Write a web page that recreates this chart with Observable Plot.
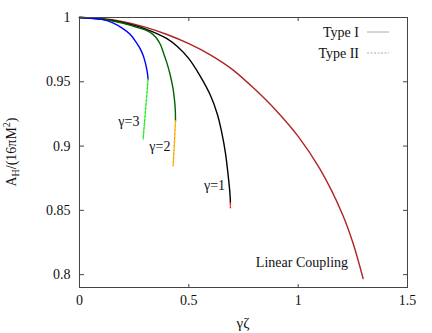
<!DOCTYPE html>
<html><head><meta charset="utf-8">
<script src="https://cdn.jsdelivr.net/npm/d3@7"></script>
<script src="https://cdn.jsdelivr.net/npm/@observablehq/plot@0.6"></script>
<style>
body{margin:0;background:#fff}
#chart svg text, #chart svg tspan{font-family:"Liberation Serif","Times New Roman",serif !important}
</style>
</head><body><div id="chart"></div>
<script>
// Tick values
const xTicks = [0, 0.5, 1, 1.5];
const yTicks = [0.8, 0.85, 0.9, 0.95, 1];

// Linear coupling (Type I)
const xLinear = [0, 0.1, 0.2, 0.3, 0.4, 0.5, 0.6, 0.7, 0.8, 0.9, 1.0, 1.1, 1.2, 1.25, 1.297];
const yLinear = [1, 0.9992, 0.9967, 0.9925, 0.9868, 0.9797, 0.9708, 0.9595, 0.9445, 0.9275, 0.9075, 0.882, 0.848, 0.825, 0.797];

// gamma = 1 (Type I and Type II)
const xG1 = [0, 0.1, 0.2, 0.3, 0.4, 0.45, 0.5, 0.55, 0.6, 0.63, 0.65, 0.668, 0.68, 0.688, 0.690];
const yG1 = [1, 0.9988, 0.996, 0.9912, 0.9835, 0.977, 0.968, 0.955, 0.939, 0.925, 0.911, 0.894, 0.877, 0.863, 0.856];
const xG1b = [0.690, 0.690];
const yG1b = [0.856, 0.852];

// gamma = 2
const xG2 = [0, 0.1, 0.2, 0.25, 0.3, 0.325, 0.35, 0.37, 0.386, 0.4, 0.416, 0.428, 0.434, 0.438, 0.439];
const yG2 = [1, 0.9988, 0.9955, 0.993, 0.9903, 0.9883, 0.9845, 0.979, 0.9715, 0.9645, 0.9545, 0.9445, 0.9365, 0.9285, 0.9197];
const xG2b = [0.439, 0.434, 0.428];
const yG2b = [0.9197, 0.902, 0.8847];

// gamma = 3
const xG3 = [0, 0.1, 0.15, 0.2, 0.23, 0.25, 0.274, 0.29, 0.30, 0.308, 0.312, 0.3135];
const yG3 = [1, 0.9985, 0.996, 0.9912, 0.9872, 0.983, 0.9767, 0.971, 0.9655, 0.9595, 0.955, 0.952];
const xG3b = [0.3135, 0.303, 0.291];
const yG3b = [0.952, 0.93, 0.9054];

// Curve annotations (anchored at their right end)
const labelText = ["γ=3", "γ=2", "γ=1", "Linear Coupling"];
const labelX = [0.274, 0.416, 0.666, 1.228];
const labelY = [0.919, 0.8995, 0.869, 0.8095];

const pts = (xs, ys) => xs.map((x, i) => ({x, y: ys[i]}));
const labels = labelText.map((t, i) => ({t, x: labelX[i], y: labelY[i]}));

const serif = '"Liberation Serif","Times New Roman",serif';
const dash = "2.5,1.5";
const axisStyle = {label: null, stroke: "#444", fontFamily: serif, fontSize: 14, fill: "#111"};
const chart = Plot.plot({
  width: 432, height: 333,
  marginTop: 17, marginRight: 25, marginBottom: 46, marginLeft: 79,
  style: {fontFamily: serif, fontSize: "14px", background: "white", color: "#111"},
  x: {domain: [0, 1.5]},
  y: {domain: [0.79, 1]},
  marks: [
    Plot.line(pts(xLinear, yLinear), {x: "x", y: "y", stroke: "#b22222", strokeWidth: 1.4, curve: "catmull-rom"}),
    Plot.line(pts(xG1, yG1), {x: "x", y: "y", stroke: "#000", strokeWidth: 1.4, curve: "catmull-rom"}),
    Plot.line(pts(xG1b, yG1b), {x: "x", y: "y", stroke: "#ff2020", strokeWidth: 1.4, strokeDasharray: dash}),
    Plot.line(pts(xG2, yG2), {x: "x", y: "y", stroke: "#006400", strokeWidth: 1.4, curve: "catmull-rom"}),
    Plot.line(pts(xG2b, yG2b), {x: "x", y: "y", stroke: "#ffa500", strokeWidth: 1.4, strokeDasharray: dash}),
    Plot.line(pts(xG3, yG3), {x: "x", y: "y", stroke: "#0000ff", strokeWidth: 1.4, curve: "catmull-rom"}),
    Plot.line(pts(xG3b, yG3b), {x: "x", y: "y", stroke: "#22ee22", strokeWidth: 1.4, strokeDasharray: dash}),
    Plot.text(labels, {x: "x", y: "y", text: "t", textAnchor: "end", fontSize: 14, fontFamily: serif, fill: "#111"}),
    Plot.frame({stroke: "#444", strokeWidth: 1}),
    // tick labels
    Plot.axisX({ticks: xTicks, tickSize: 0, tickPadding: 8, tickFormat: d => String(d), ...axisStyle}),
    Plot.axisY({ticks: yTicks, tickSize: 0, tickPadding: 9, tickFormat: d => String(d), ...axisStyle}),
    // inward ticks on all four sides
    Plot.axisX({anchor: "top", frameAnchor: "bottom", ticks: xTicks, tickSize: 4, tickPadding: 0, tickFormat: () => "", ...axisStyle}),
    Plot.axisX({anchor: "bottom", frameAnchor: "top", ticks: xTicks, tickSize: 4, tickPadding: 0, tickFormat: () => "", ...axisStyle}),
    Plot.axisY({anchor: "right", frameAnchor: "left", ticks: yTicks, tickSize: 4, tickPadding: 0, tickFormat: () => "", ...axisStyle}),
    Plot.axisY({anchor: "left", frameAnchor: "right", ticks: yTicks, tickSize: 4, tickPadding: 0, tickFormat: () => "", ...axisStyle})
  ]
});
document.getElementById("chart").appendChild(chart);

// Legend and axis titles
const svg = d3.select(chart);
const legend = [{name: "Type I", dashed: false, y: 32}, {name: "Type II", dashed: true, y: 53}];
legend.forEach(d => {
  svg.append("text").attr("x", 359).attr("y", d.y).attr("dy", "0.35em").attr("text-anchor", "end")
    .attr("font-size", 14).attr("fill", "#111").text(d.name);
  svg.append("line").attr("x1", 367).attr("x2", 389).attr("y1", d.y).attr("y2", d.y)
    .attr("stroke", "#aaa").attr("stroke-width", 1)
    .attr("stroke-dasharray", d.dashed ? "2,1.5" : null);
});
svg.append("text").attr("x", 243).attr("y", 323).attr("dy", "0.35em").attr("text-anchor", "middle")
  .attr("font-size", 15).attr("fill", "#111").text("γζ");
const yl = svg.append("text").attr("transform", "translate(16,152) rotate(-90)")
  .attr("text-anchor", "middle").attr("font-size", 14).attr("fill", "#111");
yl.append("tspan").text("A");
yl.append("tspan").attr("font-size", 10).attr("dy", "3").text("H");
yl.append("tspan").attr("dy", "-3").text("/(16πM");
yl.append("tspan").attr("font-size", 10).attr("dy", "-6").text("2");
yl.append("tspan").attr("dy", "6").text(")");
svg.selectAll("text").attr("font-family", serif).style("font-variant", "normal");
</script>
</body></html>
